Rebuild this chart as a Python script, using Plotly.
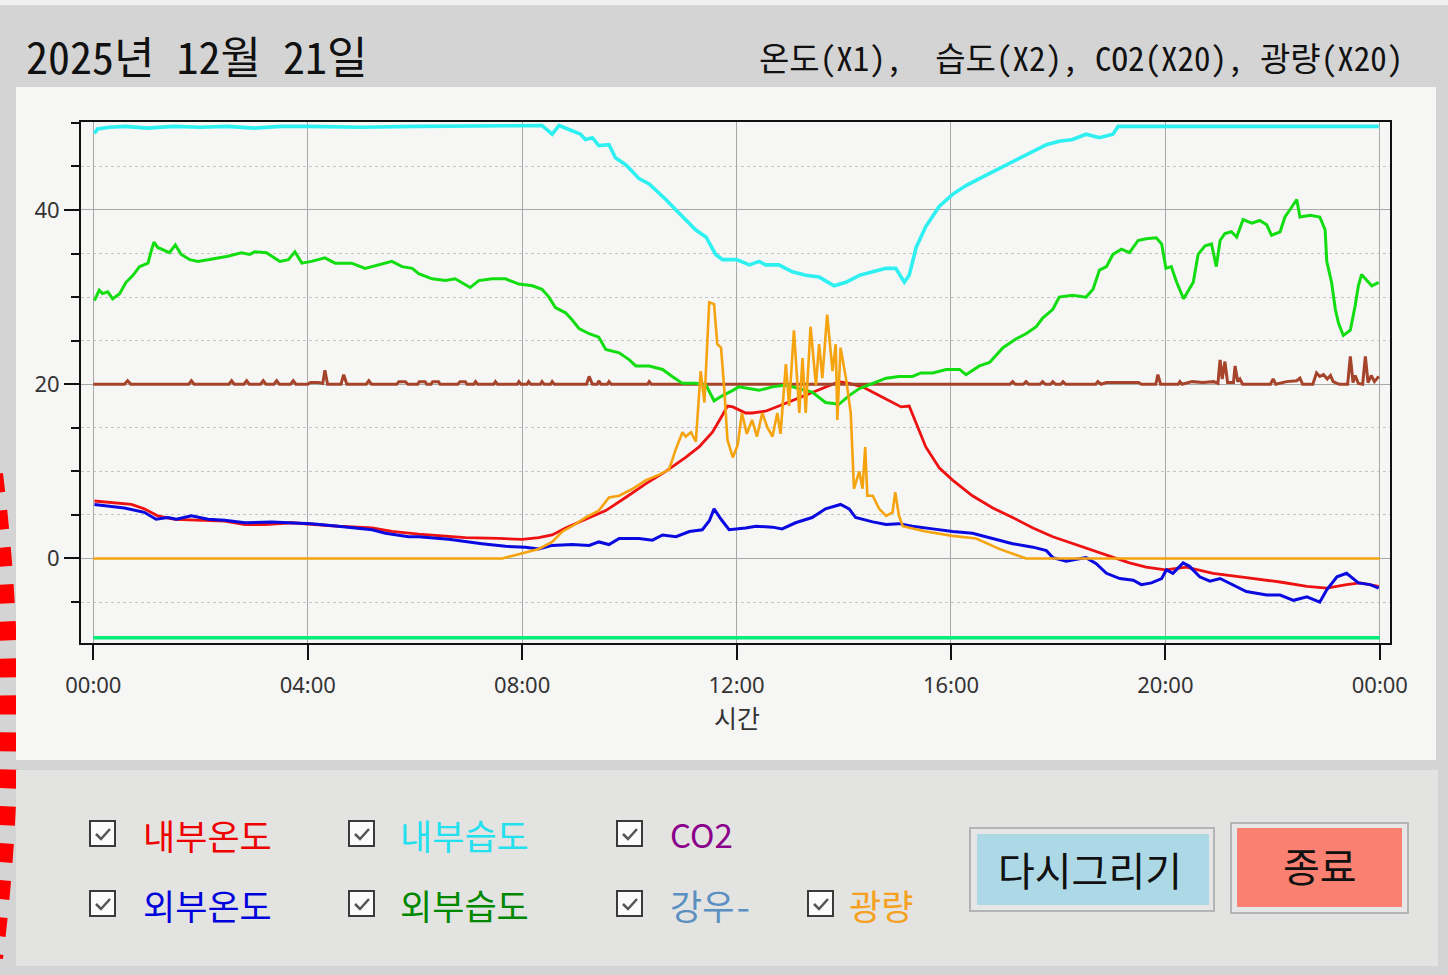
import plotly.graph_objects as go

# ---------------- data (hours, values) ----------------
time_ticks = [0, 4, 8, 12, 16, 20, 24]
time_labels = ["00:00", "04:00", "08:00", "12:00", "16:00", "20:00", "00:00"]

in_temp_t = [0.02,0.33,0.71,0.95,1.20,1.52,1.95,2.45,2.83,3.20,3.70,4.07,4.57,5.20,5.57,6.07,6.32,6.94,7.56,8.0,8.31,8.56,8.81,9.18,9.56,9.93,10.31,10.68,11.05,11.30,11.55,11.74,11.83,11.93,12.17,12.29,12.54,12.79,13.10,13.41,13.73,13.91,14.10,14.35,14.66,14.91,15.07,15.22,15.35,15.53,15.78,16.03,16.40,16.78,17.15,17.53,17.90,18.27,18.71,19.02,19.33,19.64,20.0,20.39,20.89,21.51,22.14,22.64,23.01,23.38,23.63,23.98]
in_temp_v = [6.6,6.4,6.2,5.7,4.9,4.5,4.4,4.3,3.9,3.9,4.1,3.9,3.7,3.5,3.1,2.8,2.7,2.4,2.3,2.2,2.4,2.7,3.5,4.5,5.5,7.0,8.6,10.0,11.6,12.8,14.5,16.5,17.5,17.4,16.7,16.7,16.9,17.5,18.3,19.1,19.9,20.3,20.1,19.7,18.7,17.9,17.4,17.5,15.5,12.8,10.4,9.0,7.2,5.8,4.7,3.5,2.5,1.7,0.8,0.1,-0.5,-1.0,-1.3,-1.0,-1.7,-2.2,-2.7,-3.2,-3.4,-3.0,-2.8,-3.2]

in_hum_t = [0.02,0.08,0.3,0.6,1.0,1.5,2.0,2.5,3.0,3.5,4.0,5.0,6.0,7.0,8.0,8.37,8.56,8.69,8.93,9.09,9.18,9.31,9.43,9.62,9.74,9.93,10.06,10.18,10.37,10.55,10.68,10.87,11.05,11.24,11.43,11.61,11.74,12.0,12.24,12.42,12.54,12.79,13.04,13.29,13.54,13.82,14.04,14.29,14.54,14.79,14.97,15.13,15.22,15.35,15.53,15.78,16.03,16.28,16.53,16.78,17.03,17.28,17.53,17.78,18.02,18.27,18.52,18.77,19.02,19.12,20.0,22.0,23.98]
in_hum_v = [48.8,49.3,49.5,49.6,49.4,49.6,49.5,49.6,49.4,49.6,49.6,49.5,49.6,49.6,49.6,49.7,48.7,49.7,49.1,48.7,48.1,48.3,47.4,47.5,46.0,45.2,44.4,43.6,43.0,42.0,41.2,40.0,38.9,37.7,36.9,34.9,34.3,34.3,33.7,34.1,33.7,33.7,32.9,32.5,32.3,31.3,31.7,32.5,32.9,33.3,33.3,31.7,32.5,35.7,38.1,40.4,41.8,42.8,43.6,44.4,45.2,46.0,46.8,47.5,47.9,48.1,48.7,48.3,48.7,49.6,49.6,49.6,49.6]

co2_t = [0.0,0.58,0.64,0.70,1.78,1.83,1.88,2.53,2.58,2.63,2.81,2.86,2.91,3.12,3.17,3.22,3.37,3.42,3.47,3.68,3.73,3.78,4.0,4.05,4.2,4.28,4.32,4.37,4.62,4.67,4.73,5.09,5.14,5.19,5.66,5.70,5.76,5.82,5.87,6.05,6.08,6.19,6.22,6.30,6.33,6.44,6.47,6.80,6.84,6.94,6.97,7.10,7.13,7.17,7.47,7.50,7.54,7.91,7.94,7.98,8.09,8.12,8.16,8.34,8.37,8.41,8.53,8.56,8.60,9.20,9.25,9.31,9.40,9.43,9.47,9.59,9.62,9.66,10.34,10.37,10.41,17.10,17.15,17.20,17.35,17.40,17.45,17.66,17.71,17.76,17.86,17.90,17.95,18.05,18.09,18.14,18.70,18.74,18.80,18.90,19.20,19.50,19.55,19.82,19.86,19.91,20.24,20.27,20.31,20.50,20.70,20.90,20.98,21.02,21.06,21.11,21.16,21.27,21.30,21.35,21.39,21.44,21.96,22.01,22.06,22.26,22.45,22.51,22.56,22.75,22.82,22.88,22.95,23.02,23.08,23.13,23.20,23.25,23.40,23.45,23.50,23.54,23.60,23.68,23.73,23.78,23.84,23.90,23.98]
co2_v = [20,20,20.4,20,20,20.4,20,20,20.4,20,20,20.4,20,20,20.4,20,20,20.4,20,20,20.4,20,20,20.2,20.2,20.1,21.6,20,20,21.1,20,20,20.4,20,20,20.3,20.3,20.3,20,20,20.3,20.3,20,20,20.3,20.3,20,20,20.3,20.3,20,20,20.3,20,20,20.3,20,20,20.3,20,20,20.3,20,20,20.3,20,20,20.3,20,20,20.9,20,20,20.4,20,20,20.3,20,20,20.3,20,20,20.3,20,20,20.3,20,20,20.3,20,20,20.3,20,20,20.3,20,20,20.3,20,20.2,20.2,20.2,20,20,21.1,20,20,20.3,20,20.3,20.2,20.3,20.1,22.8,20.6,22.6,20.2,20.2,22.1,20.3,20.6,20,20,20.6,20,20.3,20.4,20.7,20,20,21.3,20.9,21.1,20.6,21.0,20.3,20.1,20,20,23.2,20.2,21.0,20.1,20,23.2,20.2,21.0,20.3,20.9]

out_temp_t = [0.02,0.58,0.95,1.17,1.39,1.55,1.83,2.14,2.45,2.83,3.33,3.70,4.07,4.57,5.20,5.45,5.88,6.07,6.63,7.25,7.69,8.06,8.31,8.56,8.93,9.25,9.43,9.62,9.81,10.18,10.43,10.62,10.87,11.12,11.36,11.49,11.58,11.71,11.86,12.17,12.36,12.67,12.85,13.10,13.41,13.66,13.94,14.10,14.22,14.54,14.79,15.03,15.28,15.66,16.03,16.40,16.78,17.15,17.53,17.78,17.90,18.15,18.52,18.71,18.90,19.15,19.40,19.55,19.74,19.93,20.02,20.14,20.33,20.45,20.64,20.83,21.02,21.26,21.51,21.89,22.14,22.39,22.64,22.88,23.01,23.20,23.38,23.60,23.82,23.98]
out_temp_v = [6.2,5.8,5.3,4.5,4.7,4.5,4.9,4.5,4.4,4.1,4.2,4.1,4.0,3.7,3.3,2.9,2.5,2.5,2.2,1.7,1.4,1.3,1.1,1.5,1.6,1.5,1.9,1.6,2.3,2.3,2.1,2.7,2.5,3.1,3.3,4.3,5.7,4.5,3.3,3.5,3.7,3.6,3.4,4.1,4.7,5.7,6.2,5.7,4.7,4.2,3.9,4.0,3.7,3.4,3.1,2.9,2.3,1.7,1.3,0.9,0.1,-0.3,0.1,-0.6,-1.7,-2.3,-2.5,-3.0,-2.8,-2.3,-1.3,-1.7,-0.5,-0.9,-2.1,-2.6,-2.3,-3.0,-3.8,-4.2,-4.2,-4.8,-4.4,-5.0,-3.6,-2.1,-1.7,-2.8,-3.0,-3.4]

out_hum_t = [0.02,0.11,0.17,0.27,0.36,0.49,0.61,0.74,0.86,1.02,1.08,1.13,1.20,1.33,1.42,1.53,1.64,1.80,1.95,2.14,2.33,2.51,2.76,2.92,3.01,3.23,3.48,3.64,3.76,3.89,4.07,4.32,4.51,4.82,5.07,5.32,5.57,5.76,5.95,6.07,6.32,6.57,6.75,7.03,7.19,7.44,7.69,7.94,8.19,8.37,8.50,8.62,8.81,8.93,9.06,9.25,9.43,9.56,9.81,10.0,10.12,10.37,10.62,10.80,10.99,11.24,11.43,11.58,11.74,11.93,12.04,12.42,12.67,12.92,13.17,13.41,13.66,13.91,14.10,14.29,14.54,14.79,15.03,15.28,15.44,15.66,15.91,16.16,16.28,16.53,16.72,16.97,17.21,17.40,17.59,17.71,17.90,18.02,18.27,18.52,18.65,18.77,18.90,19.02,19.18,19.33,19.49,19.64,19.83,19.93,20.01,20.11,20.21,20.34,20.52,20.61,20.74,20.86,20.95,21.02,21.11,21.23,21.33,21.45,21.61,21.76,21.89,21.98,22.14,22.23,22.32,22.45,22.51,22.70,22.88,22.98,23.01,23.10,23.17,23.23,23.32,23.45,23.54,23.60,23.66,23.76,23.85,23.98]
out_hum_v = [29.6,30.8,30.4,30.6,29.8,30.4,31.7,32.5,33.5,33.9,35.3,36.3,35.7,35.3,35.1,36.0,34.9,34.3,34.1,34.3,34.5,34.7,35.1,34.9,35.2,35.1,34.1,34.3,35.2,33.9,34.1,34.5,33.9,33.9,33.3,33.7,34.1,33.5,33.3,32.7,32.1,31.9,32.1,31.1,31.9,32.1,32.1,31.5,31.3,30.9,30.0,28.8,28.2,27.4,26.4,25.8,25.4,24.0,23.6,22.8,22.1,22.1,21.7,20.9,20.1,20.1,19.9,18.1,18.7,19.3,19.7,19.3,19.7,19.9,19.5,19.1,17.9,17.7,18.7,19.5,20.1,20.7,20.9,20.9,21.3,21.3,21.7,21.7,21.1,22.1,22.5,24.2,25.2,25.8,26.6,27.6,28.6,30.0,30.2,30.0,30.9,33.1,33.5,34.9,35.5,35.1,36.5,36.7,36.8,36.1,33.3,33.5,31.7,29.8,31.7,34.9,35.9,36.1,33.5,36.5,37.3,37.5,36.9,38.9,38.5,38.8,38.3,37.1,37.5,39.2,40.0,41.2,39.2,39.4,39.2,37.7,34.1,31.7,28.6,27.0,25.6,26.2,29.0,31.3,32.6,31.9,31.3,31.7]

rain_t = [0.0, 24.0]
rain_v = [-9.1, -9.1]

light_t = [0.0,7.63,7.81,8.06,8.31,8.56,8.75,8.93,9.18,9.43,9.62,9.81,10.06,10.31,10.55,10.74,10.87,10.99,11.05,11.15,11.24,11.33,11.40,11.49,11.58,11.64,11.71,11.77,11.83,11.93,12.02,12.10,12.19,12.29,12.38,12.48,12.57,12.67,12.76,12.82,12.92,12.98,13.07,13.17,13.23,13.29,13.38,13.48,13.54,13.60,13.69,13.79,13.85,13.88,13.94,14.04,14.13,14.19,14.29,14.35,14.40,14.44,14.54,14.66,14.79,14.91,14.96,15.03,15.10,15.53,16.03,16.47,16.90,17.40,24.0]
light_v = [0,0,0.3,0.7,1.1,1.9,3.1,3.7,4.7,5.5,7.0,7.2,8.0,9.0,9.6,10.2,12.6,14.5,14.0,14.5,13.4,21.5,17.9,29.4,29.2,24.6,24.2,19.5,13.6,11.6,13.0,16.7,14.3,15.9,14.0,16.7,15.1,14.0,16.7,14.3,22.3,17.5,26.2,16.7,23.0,16.7,26.6,19.9,24.6,20.7,28.0,21.5,24.6,15.9,24.2,20.7,16.7,8.0,10.0,8.0,12.8,7.2,7.2,5.7,4.9,5.3,7.6,4.9,3.7,3.1,2.6,2.3,1.1,0,0]

# ---------------- geometry helpers ----------------
W, H = 1448, 975
ML, MR, MT, MB = 81, 58, 122, 332
PW = W - ML - MR
PH = H - MT - MB


def px(x):
    return (x - ML) / PW


def py(y):
    return (H - MB - y) / PH


KR = "Noto Sans Mono CJK KR, Noto Sans CJK KR, sans-serif"
KRP = "Noto Sans CJK KR, sans-serif"
LAT = "Noto Sans, DejaVu Sans, sans-serif"

fig = go.Figure()


def add_line(t, v, color, width):
    fig.add_trace(go.Scatter(x=t, y=v, mode="lines",
                             line=dict(color=color, width=width),
                             showlegend=False, hoverinfo="skip"))


add_line(in_temp_t, in_temp_v, "#ee1111", 2.8)
add_line(in_hum_t, in_hum_v, "#2ef0f0", 3.6)
add_line(co2_t, co2_v, "#a5432b", 3)
add_line(out_temp_t, out_temp_v, "#0a0ae0", 3)
add_line(out_hum_t, out_hum_v, "#11dd11", 3)
add_line(rain_t, rain_v, "#00ee77", 3.5)
add_line(light_t, light_v, "#f5a30f", 2.6)

shapes = []


def rect(x0, y0, x1, y1, fill, line_color=None, lw=0):
    shapes.append(dict(type="rect", xref="paper", yref="paper", layer="below",
                       x0=px(x0), x1=px(x1), y0=py(y1), y1=py(y0),
                       fillcolor=fill,
                       line=dict(color=line_color or fill, width=lw)))


# top light strip
rect(0, 0, W, 5, "#f0f0f0")
# red dashed arc on the left edge
shapes.append(dict(type="path", xref="paper", yref="paper", layer="below",
                   path="M %f,%f Q %f,%f %f,%f" % (px(-6), py(474), px(24), py(715), px(-6), py(958)),
                   line=dict(color="#ff0000", width=18, dash="19px,18px")))
# chart panel and bottom panel
rect(16, 87, 1436, 760, "#f6f6f4")
rect(16, 770, 1438, 966, "#e3e3e1")

# checkboxes
box_x = [90, 349, 617, 808]
box_y = [821, 891]
boxes = [(0, 0), (1, 0), (2, 0), (0, 1), (1, 1), (2, 1), (3, 1)]
for c, r in boxes:
    x0, y0 = box_x[c], box_y[r]
    rect(x0, y0, x0 + 25, y0 + 25, "#fbfbfb", "#3a3a3a", 2)
    shapes.append(dict(type="path", xref="paper", yref="paper", layer="below",
                       path="M %f,%f L %f,%f L %f,%f" % (px(x0 + 6), py(y0 + 13), px(x0 + 11), py(y0 + 18),
                                                          px(x0 + 20), py(y0 + 8)),
                       line=dict(color="#555555", width=2.5)))

# buttons
rect(970, 828, 1214, 911, "#e6e6e6", "#b4b4b4", 2)
rect(977, 834, 1209, 905, "#add8e6")
rect(1231, 823, 1408, 913, "#e6e6e6", "#b4b4b4", 2)
rect(1237, 828, 1402, 907, "#fa8072")

ann = []


def text(x, y, s, size, color="#111111", anchor="left", font=KR):
    ann.append(dict(x=px(x), y=py(y), xref="paper", yref="paper", text=s,
                    showarrow=False, xanchor=anchor, yanchor="middle",
                    font=dict(family=font, size=size, color=color)))


text(24, 55, "2025년 12월 21일", 44)
text(1405, 57, "온도(X1),  습도(X2), CO2(X20), 광량(X20)", 33, anchor="right")
text(737, 717, "시간", 25, color="#333333", anchor="center", font=KRP)

labels = [("내부온도", 0, 0, "#ee0000", KR), ("내부습도", 1, 0, "#22e0ee", KR), ("CO2", 2, 0, "#8b008b", KRP),
          ("외부온도", 0, 1, "#0000dd", KR), ("외부습도", 1, 1, "#008800", KR), ("강우-", 2, 1, "#5b8fc0", KR),
          ("광량", 3, 1, "#f5a020", KR)]
label_x = [141, 398, 668, 847]
label_y = [834, 904]
for s, c, r, col, fam in labels:
    text(label_x[c], label_y[r], s, 35 if fam == KR else 33, color=col, font=fam)

text(1090, 869, "다시그리기", 40, anchor="center")
text(1320, 865, "종료", 40, anchor="center")

fig.update_layout(
    width=W, height=H,
    margin=dict(l=ML, r=MR, t=MT, b=MB, pad=0),
    paper_bgcolor="#d4d4d4",
    plot_bgcolor="#f6f6f4",
    shapes=shapes,
    annotations=ann,
    showlegend=False,
    xaxis=dict(range=[-0.23, 24.19], tickvals=time_ticks, ticktext=time_labels,
               ticks="outside", ticklen=15, tickwidth=1.5, tickcolor="#111",
               showline=True, linecolor="#111", linewidth=2, mirror=True,
               showgrid=True, gridcolor="#a8a8a8", gridwidth=1, zeroline=False,
               ticklabelstandoff=7,
               tickfont=dict(family=LAT, size=22, color="#333333")),
    yaxis=dict(range=[-9.7, 50.1], tick0=0, dtick=20,
               ticks="outside", ticklen=15, tickwidth=1.5, tickcolor="#111",
               showline=True, linecolor="#111", linewidth=2, mirror=True,
               showgrid=True, gridcolor="#a8a8a8", gridwidth=1, zeroline=False,
               tickfont=dict(family=LAT, size=22, color="#333333"),
               minor=dict(dtick=5, tick0=0, ticks="outside", ticklen=8, tickwidth=1.5,
                          tickcolor="#111", showgrid=True, gridcolor="#c4c4c4",
                          griddash="dot", gridwidth=1)),
)

fig.write_html("out.html", config={"displayModeBar": False},
               post_script="document.body.style.margin='0px';document.body.style.overflow='hidden';")
